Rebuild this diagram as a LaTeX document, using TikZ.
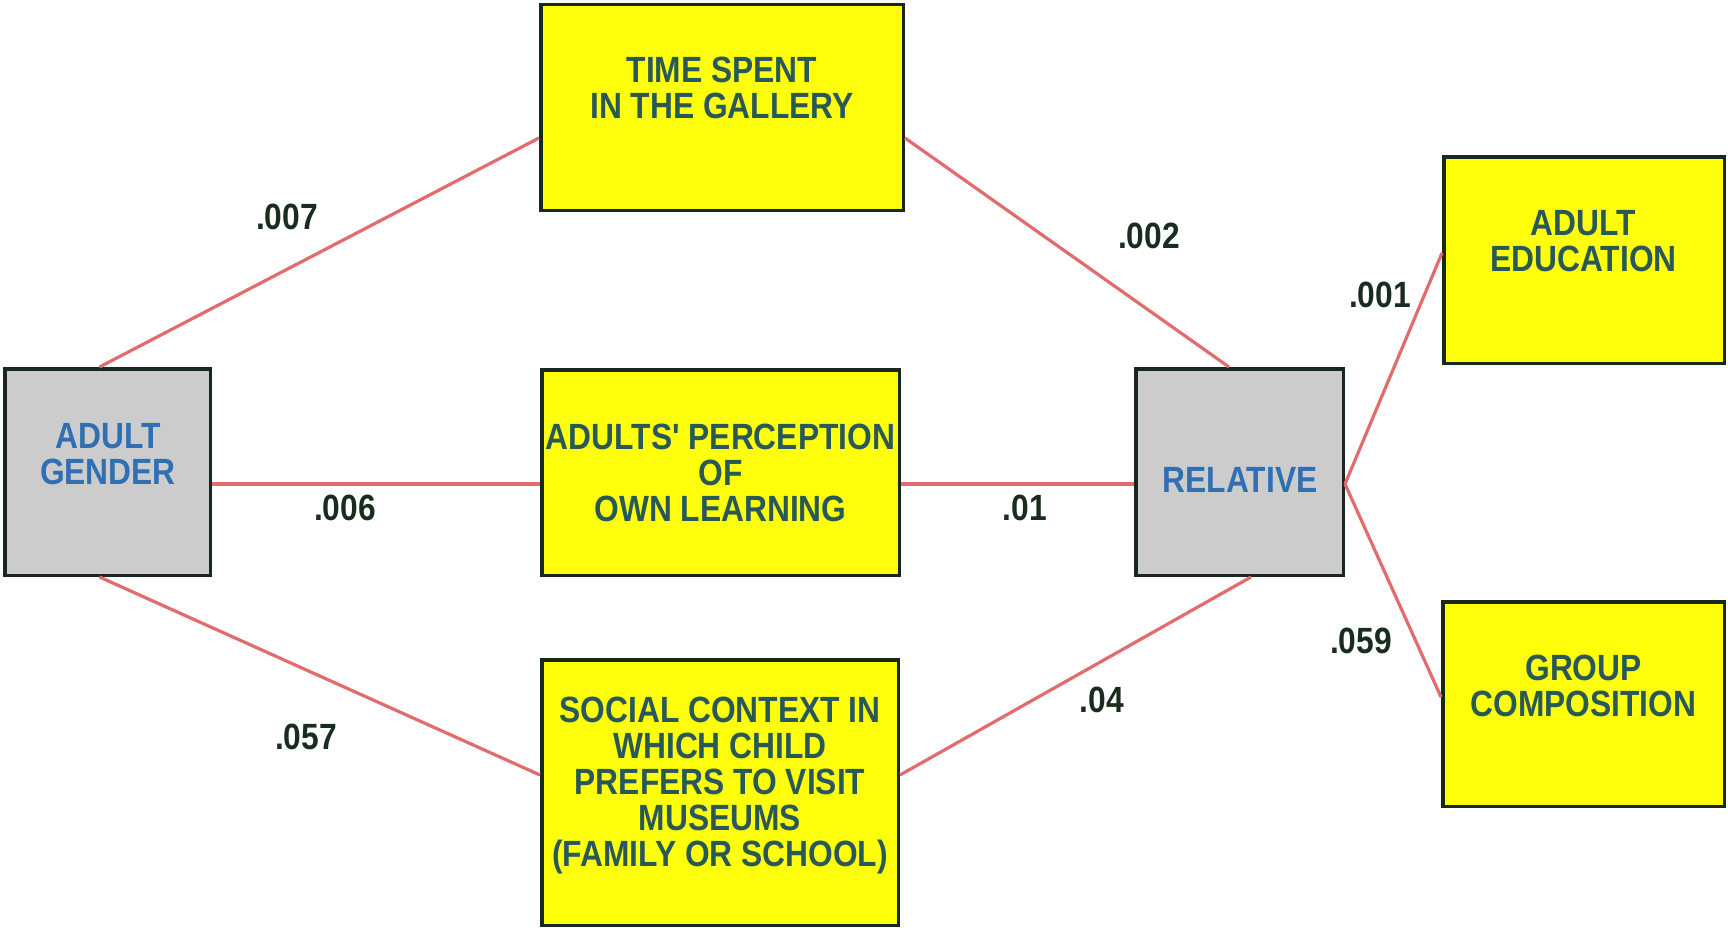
\documentclass[tikz,border=0pt]{standalone}
\usepackage{fontspec}
\usepackage{graphicx}
\setmainfont{Liberation Sans}
\definecolor{boxyellow}{RGB}{255,255,12}
\definecolor{boxgray}{RGB}{204,204,204}
\definecolor{boxline}{RGB}{25,40,30}
\definecolor{tealtext}{RGB}{40,88,88}
\definecolor{bluetext}{RGB}{48,112,178}
\definecolor{numtext}{RGB}{25,45,30}
\definecolor{link}{RGB}{226,108,108}
% narrow bold capitals, several centred lines
\newcommand{\boxtext}[1]{\scalebox{0.87}[1]{\begin{tabular}{@{}c@{}}#1\end{tabular}}}
\newcommand{\numtext}[1]{\scalebox{0.87}[1]{#1}}
\begin{document}
\begin{tikzpicture}[x=1pt,y=-1pt,
  box/.style={draw=boxline,line width=3.5pt,inner sep=0pt},
  ybox/.style={box,fill=boxyellow},
  gbox/.style={box,fill=boxgray},
  ytext/.style={inner sep=0pt,text=tealtext,font=\bfseries\fontsize{36.5}{35}\selectfont},
  gtext/.style={inner sep=0pt,text=bluetext,font=\fontsize{36.5}{35}\selectfont},
  num/.style={inner sep=0pt,text=numtext,font=\bfseries\fontsize{36.5}{35}\selectfont},
  conn/.style={draw=link,line width=3.2pt}]
\useasboundingbox (0,0) rectangle (1728,931);

% boxes
\node[gbox,minimum width=205.5pt,minimum height=206.5pt] (ag) at (107.5,472) {};
\node[ybox,minimum width=362.5pt,minimum height=205.5pt] (tg) at (722,107.5) {};
\node[ybox,minimum width=357.5pt,minimum height=205.5pt] (ap) at (720.5,472.5) {};
\node[ybox,minimum width=356.5pt,minimum height=265.5pt] (sc) at (720,792.5) {};
\node[gbox,minimum width=207.5pt,minimum height=206.5pt] (rel) at (1239.5,472) {};
\node[ybox,minimum width=280.5pt,minimum height=206.5pt] (ae) at (1584,260) {};
\node[ybox,minimum width=281.5pt,minimum height=204.5pt] (gc) at (1583.5,704) {};

% box captions
\node[gtext] (agt) at (108,459) {\boxtext{\bfseries ADULT\\\bfseries GENDER}};
\node[ytext] (tgt) at (722,93) {\boxtext{TIME SPENT\\IN THE GALLERY}};
\node[ytext] (apt) at (720.5,478) {\boxtext{ADULTS\textquotesingle{} PERCEPTION\\OF\\OWN LEARNING}};
\node[ytext] (sct) at (720,787) {\boxtext{SOCIAL CONTEXT IN\\WHICH CHILD\\PREFERS TO VISIT\\MUSEUMS\\(FAMILY OR SCHOOL)}};
\node[gtext] (relt) at (1240,485) {\boxtext{\bfseries RELATIVE}};
\node[ytext] (aet) at (1583.5,246) {\boxtext{ADULT\\EDUCATION}};
\node[ytext] (gct) at (1583.5,691) {\boxtext{GROUP\\COMPOSITION}};

% connectors
\draw[conn] ([xshift=-8pt]ag.north) -- ([yshift=-30.5pt]tg.west);
\draw[conn] ([yshift=-12pt]ag.east) -- ([yshift=-11.5pt]ap.west);
\draw[conn] ([xshift=-8pt]ag.south) -- ([yshift=17.5pt]sc.west);
\draw[conn] ([yshift=-30.5pt]tg.east) -- ([xshift=-10.5pt]rel.north);
\draw[conn] ([yshift=-11.5pt]ap.east) -- ([yshift=-12pt]rel.west);
\draw[conn] ([yshift=17.5pt]sc.east) -- ([xshift=11.5pt]rel.south);
\draw[conn] ([yshift=-12pt]rel.east) -- ([yshift=7pt]ae.west);
\draw[conn] ([yshift=-12pt]rel.east) -- ([yshift=7pt]gc.west);

% path coefficients
\node[num] (n1) at (287,217) {\numtext{.007}};
\node[num] (n2) at (345,508) {\numtext{.006}};
\node[num] (n3) at (306,737) {\numtext{.057}};
\node[num] (n4) at (1149,236) {\numtext{.002}};
\node[num] (n5) at (1025,508) {\numtext{.01}};
\node[num] (n6) at (1102,700) {\numtext{.04}};
\node[num] (n7) at (1380,295) {\numtext{.001}};
\node[num] (n8) at (1361,641) {\numtext{.059}};
\end{tikzpicture}
\end{document}
